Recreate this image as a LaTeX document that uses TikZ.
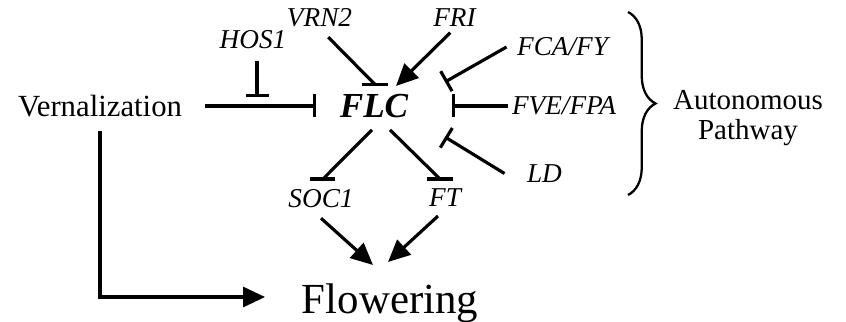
\documentclass[tikz,border=0pt]{standalone}
\usepackage{fontspec}
\setmainfont{Liberation Serif}
\usetikzlibrary{arrows.meta,decorations.pathreplacing}

\begin{document}
\begin{tikzpicture}[line width=1.8pt, every node/.style={inner sep=0pt},
  gene/.style={font=\fontsize{15.5}{15.5}\selectfont\itshape},
  bigtext/.style={font=\fontsize{17.5}{18}\selectfont},
  act/.style={-{Triangle[length=0.44cm,width=0.4cm]}},
  inh/.style={-{Bar[width=0.46cm]}}]

% the space
\useasboundingbox (0,0) rectangle (16.92,6.44);

% the genes
\node[bigtext] (vern) at (2.0,4.32) {Vernalization};
\node[font=\fontsize{20}{20}\selectfont\bfseries\itshape] (flc) at (7.48,4.31) {FLC};
\node[anchor=base, font=\fontsize{24.4}{25}\selectfont] (flow) at (7.8,0.16) {Flowering};
\node[gene] (hos) at (5.06,5.64) {HOS1};
\node[gene] (vrn) at (6.39,6.09) {VRN2};
\node[gene] (fri) at (9.09,6.08) {FRI};
\node[gene] (fca) at (11.25,5.5) {FCA/FY};
\node[gene] (fve) at (11.28,4.32) {FVE/FPA};
\node[gene] (ld) at (10.89,2.97) {LD};
\node[gene] (soc) at (6.42,2.47) {SOC1};
\node[gene] (ft) at (8.9,2.49) {FT};
\node[align=center, font=\fontsize{16.5}{17}\selectfont] (auto) at (14.96,4.08) {Autonomous\\Pathway};

% ends of the connectors
\coordinate (hosbar) at (5.14,4.5);
\coordinate (vrnbar) at (7.5,4.75);
\coordinate (fritip) at (7.92,4.72);
\coordinate (fcabar) at (8.9,4.8);
\coordinate (fvebar) at (9.04,4.28);
\coordinate (ldbar) at (8.9,3.7);
\coordinate (socbar) at (6.46,2.86);
\coordinate (ftbar) at (8.8,2.86);
\coordinate (flowl) at (7.46,1.14);
\coordinate (flowr) at (7.76,1.2);
\coordinate (flowin) at (5.3,0.5);

% vernalization
\draw[inh, shorten <=0.42cm, shorten >=0.44cm] (vern.east) -- (vern.east -| flc.west);
\draw[inh, shorten <=0.2cm] (hos.south -| hosbar) -- (hosbar);
\draw[act, shorten <=0.26cm] (vern.south) |- (flowin);

% into FLC
\draw[shorten <=0.25cm] (vrn.south) -- (vrnbar);
\draw ([xshift=-0.26cm]vrnbar) -- ([xshift=0.26cm]vrnbar);
\draw[act, shorten <=0.12cm] (fri.south) -- (fritip);
\draw[inh] ([xshift=-0.18cm]fca.west) -- (fcabar);
\draw[inh] ([xshift=-0.04cm]fve.west) -- (fve.west -| fvebar);
\draw[inh] ([xshift=-0.42cm]ld.west) -- (ldbar);

% out of FLC
\draw ([xshift=-0.04cm,yshift=-0.2cm]flc.south) -- (socbar);
\draw ([xshift=-0.26cm]socbar) -- ([xshift=0.24cm]socbar);
\draw ([xshift=0.32cm,yshift=-0.2cm]flc.south) -- (ftbar);
\draw ([xshift=-0.26cm]ftbar) -- ([xshift=0.26cm]ftbar);
\draw[act] ([yshift=-0.18cm]soc.south) -- (flowl);
\draw[act] ([xshift=-0.14cm,yshift=-0.16cm]ft.south) -- (flowr);

% the autonomous pathway
\draw[line width=1.3pt, decorate, decoration={brace,amplitude=0.55cm}] (12.56,6.2) -- (12.56,2.54);

\end{tikzpicture}
\end{document}
